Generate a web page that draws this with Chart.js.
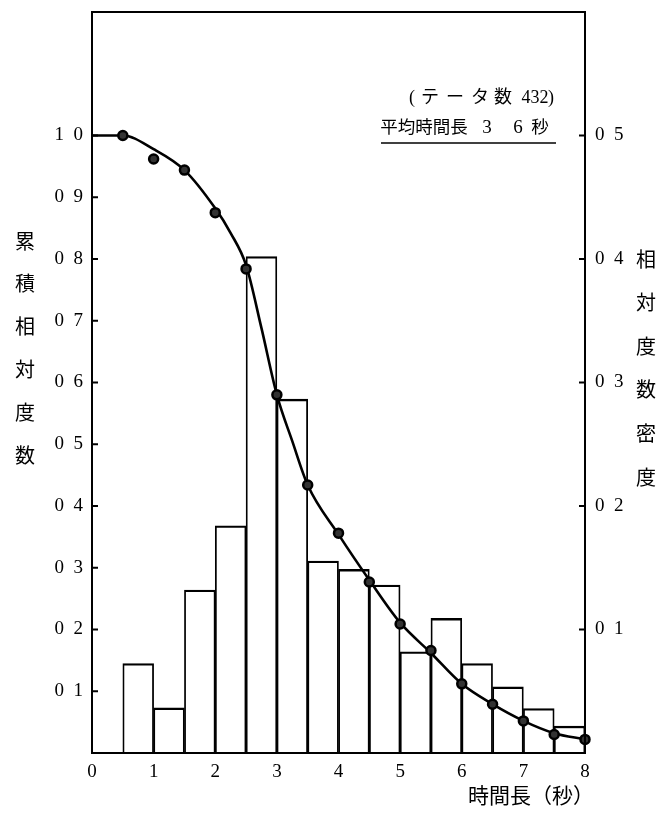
<!DOCTYPE html>
<html>
<head>
<meta charset="utf-8">
<script src="https://cdn.jsdelivr.net/npm/chart.js@4"></script>
<style>
  html, body { margin: 0; padding: 0; background: #fff; }
  canvas { display: block; }
</style>
</head>
<body>
<canvas id="myChart" width="658" height="816"></canvas>
<script>
// histogram of relative frequency density (right axis), 0.5 s bins
const binCenters = [0.75, 1.25, 1.75, 2.25, 2.75, 3.25, 3.75, 4.25, 4.75, 5.25, 5.75, 6.25, 6.75, 7.25, 7.75];
const density = [0.0725, 0.0365, 0.132, 0.184, 0.402, 0.2865, 0.1555, 0.1487, 0.136, 0.082, 0.109, 0.0725, 0.0535, 0.036, 0.0218];

// observed cumulative relative frequency (left axis)
const pointX = [0.5, 1, 1.5, 2, 2.5, 3, 3.5, 4, 4.5, 5, 5.5, 6, 6.5, 7, 7.5, 8];
const pointY = [1.0, 0.962, 0.944, 0.875, 0.784, 0.580, 0.434, 0.356, 0.277, 0.209, 0.166, 0.112, 0.079, 0.052, 0.030, 0.022];

// fitted curve
const curveX = [0, 0.5, 1, 1.5, 2, 2.25, 2.5, 2.75, 3, 3.25, 3.5, 4, 4.5, 5, 5.5, 6, 6.5, 7, 7.5, 8];
const curveY = [1.0, 1.0, 0.978, 0.944, 0.882, 0.842, 0.790, 0.688, 0.580, 0.505, 0.434, 0.354, 0.280, 0.211, 0.162, 0.112, 0.079, 0.052, 0.032, 0.022];

// tick labels
const xTickLabels = ['0', '1', '2', '3', '4', '5', '6', '7', '8'];
const leftTickValues = [0.1, 0.2, 0.3, 0.4, 0.5, 0.6, 0.7, 0.8, 0.9, 1.0];
const leftTickLabels = ['0\u20021', '0\u20022', '0\u20023', '0\u20024', '0\u20025', '0\u20026', '0\u20027', '0\u20028', '0\u20029', '1\u20020'];
const rightTickValues = [0.1, 0.2, 0.3, 0.4, 0.5];
const rightTickLabels = ['0\u20021', '0\u20022', '0\u20023', '0\u20024', '0\u20025'];

const leftTitle = '累積相対度数';
const rightTitle = '相対度数密度';
const xTitle = '時間長（秒）';
// note text, split into spaced pieces: [text, centre x]
const noteLine1 = [['(', 412], ['テ', 430], ['ー', 455], ['タ', 480], ['数', 503], ['432', 535], [')', 551]];
const noteLine2 = [['平均時間長', 424], ['3', 487], ['6', 518], ['秒', 540]];

const FONT = "'Liberation Serif', 'Noto Sans CJK JP', serif";
const CJK = "'Noto Sans CJK JP', sans-serif";

// frame, inward ticks and the text blocks
const decorations = {
    id: 'decorations',
    afterDatasetsDraw(chart) {
        const { ctx, chartArea: a, scales } = chart;
        ctx.save();
        ctx.strokeStyle = '#000';
        ctx.lineWidth = 2;
        ctx.strokeRect(a.left, a.top, a.right - a.left, a.bottom - a.top);

        ctx.beginPath();
        leftTickValues.forEach(v => {
            const y = scales.y.getPixelForValue(v);
            ctx.moveTo(a.left, y);
            ctx.lineTo(a.left + 6, y);
        });
        rightTickValues.forEach(v => {
            const y = scales.y2.getPixelForValue(v);
            ctx.moveTo(a.right, y);
            ctx.lineTo(a.right - 6, y);
        });
        ctx.stroke();

        ctx.fillStyle = '#000';
        ctx.textAlign = 'center';
        ctx.textBaseline = 'middle';
        ctx.font = '20px ' + CJK;
        [...leftTitle].forEach((ch, i) => ctx.fillText(ch, 25, 241 + i * 42.8));
        [...rightTitle].forEach((ch, i) => ctx.fillText(ch, 646, 259 + i * 43.6));

        ctx.font = '21px ' + CJK;
        ctx.textAlign = 'right';
        ctx.fillText(xTitle, 594, 795);

        ctx.textAlign = 'center';
        ctx.font = '18px ' + FONT;
        noteLine1.forEach(([t, x]) => ctx.fillText(t, x, 98));
        noteLine2.forEach(([t, x]) => {
            ctx.font = (/\d/.test(t) ? '19px ' : '17.5px ') + FONT;
            ctx.fillText(t, x, 128);
        });
        ctx.lineWidth = 1.5;
        ctx.beginPath();
        ctx.moveTo(381, 143);
        ctx.lineTo(556, 143);
        ctx.stroke();
        ctx.restore();
    }
};

// fixed axis box sizes so the plot frame lands where it should
function fixBox(size, key) {
    return s => {
        s[key] = size;
        s.paddingTop = 0;
        s.paddingBottom = 0;
        s.paddingLeft = 0;
        s.paddingRight = 0;
    };
}

const ctx = document.getElementById('myChart');

new Chart(ctx, {
    data: {
        datasets: [
            {
                type: 'line',
                data: pointX.map((x, i) => ({ x: x, y: pointY[i] })),
                yAxisID: 'y',
                showLine: false,
                pointRadius: 4.5,
                pointBorderWidth: 2.5,
                pointBackgroundColor: '#333',
                pointBorderColor: '#000',
                clip: false,
                order: 0
            },
            {
                type: 'line',
                data: curveX.map((x, i) => ({ x: x, y: curveY[i] })),
                yAxisID: 'y',
                borderColor: '#000',
                borderWidth: 2.6,
                pointRadius: 0,
                cubicInterpolationMode: 'monotone',
                fill: false,
                order: 1
            },
            {
                type: 'bar',
                data: binCenters.map((x, i) => ({ x: x, y: density[i] })),
                yAxisID: 'y2',
                backgroundColor: '#fff',
                borderColor: '#000',
                borderWidth: { top: 2.4, left: 1.8, right: 1.8, bottom: 0 },
                borderSkipped: 'bottom',
                barPercentage: 1,
                categoryPercentage: 1,
                order: 2
            }
        ]
    },
    options: {
        responsive: false,
        animation: false,
        events: [],
        layout: { padding: { top: 12, left: 0, right: 0, bottom: 0 } },
        plugins: {
            legend: { display: false },
            tooltip: { enabled: false }
        },
        scales: {
            x: {
                type: 'linear',
                offset: false,
                min: 0,
                max: 8,
                grid: { display: false, drawTicks: false, offset: false },
                border: { display: false },
                afterBuildTicks: s => { s.ticks = xTickLabels.map((t, i) => ({ value: i })); },
                afterFit: fixBox(63, 'height'),
                ticks: {
                    padding: 8,
                    color: '#000',
                    font: { family: FONT, size: 19 },
                    maxRotation: 0,
                    autoSkip: false,
                    callback: (v, i) => xTickLabels[i]
                }
            },
            y: {
                position: 'left',
                min: 0,
                max: 1.2,
                grid: { display: false, drawTicks: false },
                border: { display: false },
                afterBuildTicks: s => { s.ticks = leftTickValues.map(v => ({ value: v })); },
                afterFit: fixBox(92, 'width'),
                ticks: {
                    padding: 9,
                    color: '#000',
                    font: { family: FONT, size: 19 },
                    autoSkip: false,
                    callback: (v, i) => leftTickLabels[i]
                }
            },
            y2: {
                position: 'right',
                min: 0,
                max: 0.6,
                grid: { display: false, drawTicks: false },
                border: { display: false },
                afterBuildTicks: s => { s.ticks = rightTickValues.map(v => ({ value: v })); },
                afterFit: fixBox(73, 'width'),
                ticks: {
                    padding: 10,
                    color: '#000',
                    font: { family: FONT, size: 19 },
                    autoSkip: false,
                    callback: (v, i) => rightTickLabels[i]
                }
            }
        }
    },
    plugins: [decorations]
});
</script>
</body>
</html>
